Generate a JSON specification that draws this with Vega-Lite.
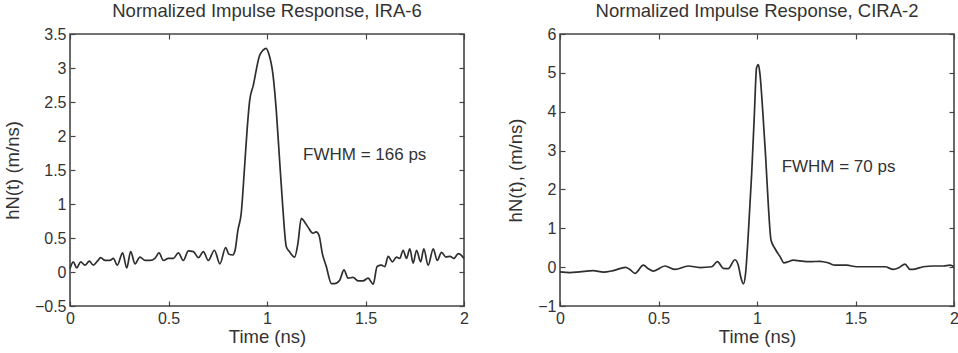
{
  "$schema": "https://vega.github.io/schema/vega-lite/v6.json",
  "background": "white",
  "padding": {"left": 2, "top": 0, "right": 2, "bottom": 0},
  "spacing": 35,
  "config": {
    "font": "Liberation Sans",
    "view": {"stroke": "#454545", "strokeWidth": 1.6},
    "axis": {
      "domain": false,
      "grid": false,
      "tickSize": -5,
      "tickColor": "#454545",
      "tickWidth": 1.2,
      "labelFont": "Liberation Sans",
      "labelFontSize": 16,
      "labelColor": "#333333",
      "labelFlush": false,
      "labelOverlap": false,
      "labelBound": false,
      "format": "~g",
      "titleFont": "Liberation Sans",
      "titleFontSize": 18.5,
      "titleFontWeight": "normal",
      "titleColor": "#333333"
    },
    "title": {
      "font": "Liberation Sans",
      "fontSize": 18.5,
      "fontWeight": "normal",
      "color": "#333333",
      "anchor": "middle",
      "offset": 6
    }
  },
  "datasets": {
    "ira6": [
      {"t":0,"h":0.05},{"t":0.017,"h":0.15},{"t":0.034,"h":0.06},{"t":0.054,"h":0.15},{"t":0.076,"h":0.10},{"t":0.098,"h":0.16},{"t":0.118,"h":0.10},{"t":0.139,"h":0.16},{"t":0.156,"h":0.21},{"t":0.178,"h":0.17},{"t":0.203,"h":0.17},{"t":0.22,"h":0.20},{"t":0.24,"h":0.10},{"t":0.267,"h":0.28},{"t":0.288,"h":0.06},{"t":0.308,"h":0.30},{"t":0.33,"h":0.12},{"t":0.355,"h":0.22},{"t":0.381,"h":0.17},{"t":0.406,"h":0.17},{"t":0.431,"h":0.20},{"t":0.452,"h":0.28},{"t":0.474,"h":0.17},{"t":0.499,"h":0.20},{"t":0.525,"h":0.20},{"t":0.55,"h":0.28},{"t":0.575,"h":0.17},{"t":0.601,"h":0.31},{"t":0.626,"h":0.30},{"t":0.652,"h":0.21},{"t":0.677,"h":0.30},{"t":0.702,"h":0.17},{"t":0.733,"h":0.32},{"t":0.761,"h":0.12},{"t":0.79,"h":0.36},{"t":0.807,"h":0.26},{"t":0.826,"h":0.25},{"t":0.838,"h":0.32},{"t":0.852,"h":0.61},{"t":0.869,"h":0.86},{"t":0.886,"h":1.54},{"t":0.9,"h":2.13},{"t":0.912,"h":2.52},{"t":0.93,"h":2.74},{"t":0.962,"h":3.18},{"t":0.979,"h":3.26},{"t":0.996,"h":3.29},{"t":1.009,"h":3.21},{"t":1.03,"h":2.91},{"t":1.047,"h":2.38},{"t":1.064,"h":1.64},{"t":1.08,"h":0.96},{"t":1.098,"h":0.37},{"t":1.114,"h":0.30},{"t":1.14,"h":0.22},{"t":1.157,"h":0.42},{"t":1.174,"h":0.79},{"t":1.19,"h":0.74},{"t":1.208,"h":0.66},{"t":1.233,"h":0.57},{"t":1.25,"h":0.59},{"t":1.264,"h":0.54},{"t":1.281,"h":0.27},{"t":1.301,"h":0.08},{"t":1.327,"h":-0.17},{"t":1.343,"h":-0.17},{"t":1.369,"h":-0.12},{"t":1.391,"h":0.03},{"t":1.411,"h":-0.09},{"t":1.437,"h":-0.08},{"t":1.462,"h":-0.13},{"t":1.488,"h":-0.13},{"t":1.513,"h":-0.09},{"t":1.539,"h":-0.18},{"t":1.559,"h":0.08},{"t":1.581,"h":0.10},{"t":1.598,"h":0.08},{"t":1.615,"h":0.23},{"t":1.637,"h":0.15},{"t":1.657,"h":0.22},{"t":1.674,"h":0.20},{"t":1.691,"h":0.32},{"t":1.708,"h":0.20},{"t":1.725,"h":0.34},{"t":1.742,"h":0.13},{"t":1.759,"h":0.32},{"t":1.78,"h":0.15},{"t":1.796,"h":0.34},{"t":1.818,"h":0.10},{"t":1.844,"h":0.34},{"t":1.864,"h":0.17},{"t":1.886,"h":0.29},{"t":1.908,"h":0.22},{"t":1.929,"h":0.23},{"t":1.949,"h":0.20},{"t":1.971,"h":0.27},{"t":2.0,"h":0.20}
    ],
    "cira2": [
      {"t":0,"h":-0.12},{"t":0.051,"h":-0.14},{"t":0.10,"h":-0.12},{"t":0.169,"h":-0.09},{"t":0.22,"h":-0.13},{"t":0.27,"h":-0.09},{"t":0.333,"h":-0.005},{"t":0.355,"h":-0.06},{"t":0.381,"h":-0.16},{"t":0.423,"h":0.05},{"t":0.448,"h":-0.04},{"t":0.474,"h":-0.10},{"t":0.533,"h":0.03},{"t":0.584,"h":-0.06},{"t":0.651,"h":0.03},{"t":0.711,"h":-0.01},{"t":0.77,"h":0.01},{"t":0.799,"h":0.14},{"t":0.829,"h":-0.03},{"t":0.854,"h":-0.04},{"t":0.888,"h":0.19},{"t":0.905,"h":0.05},{"t":0.917,"h":-0.24},{"t":0.931,"h":-0.43},{"t":0.942,"h":-0.16},{"t":0.956,"h":0.87},{"t":0.973,"h":2.41},{"t":0.986,"h":3.86},{"t":0.998,"h":5.14},{"t":1.007,"h":5.21},{"t":1.015,"h":4.97},{"t":1.029,"h":4.03},{"t":1.044,"h":2.83},{"t":1.058,"h":1.55},{"t":1.071,"h":0.70},{"t":1.091,"h":0.48},{"t":1.117,"h":0.27},{"t":1.137,"h":0.11},{"t":1.159,"h":0.14},{"t":1.184,"h":0.18},{"t":1.218,"h":0.16},{"t":1.269,"h":0.14},{"t":1.32,"h":0.15},{"t":1.362,"h":0.11},{"t":1.396,"h":0.05},{"t":1.455,"h":0.05},{"t":1.506,"h":0.01},{"t":1.557,"h":0.01},{"t":1.607,"h":0.01},{"t":1.65,"h":0.01},{"t":1.692,"h":-0.06},{"t":1.722,"h":-0.01},{"t":1.751,"h":0.08},{"t":1.777,"h":-0.06},{"t":1.802,"h":-0.05},{"t":1.844,"h":0.01},{"t":1.895,"h":0.03},{"t":1.946,"h":0.03},{"t":1.98,"h":0.05},{"t":2.0,"h":0.01}
    ],
    "notes": [
      {"panel":"IRA-6","t":1.183,"h":1.72,"label":"FWHM = 166 ps"},
      {"panel":"CIRA-2","t":1.125,"h":2.585,"label":"FWHM = 70 ps"}
    ]
  },
  "hconcat": [
    {
      "width": 394,
      "height": 272,
      "title": {"text": "Normalized Impulse Response, IRA-6"},
      "resolve": {"axis": {"x": "independent", "y": "independent"}},
      "layer": [
        {
          "data": {"name": "ira6"},
          "mark": {"type": "line", "color": "#2e2e2e", "strokeWidth": 1.7, "interpolate": "monotone"},
          "encoding": {
            "x": {"field": "t", "type": "quantitative", "scale": {"domain": [0, 2], "nice": false, "zero": false},
                  "axis": {"orient": "bottom", "values": [0, 0.5, 1, 1.5, 2], "title": "Time (ns)", "labelPadding": 9, "titlePadding": 1}},
            "y": {"field": "h", "type": "quantitative", "scale": {"domain": [-0.5, 3.5], "nice": false, "zero": false},
                  "axis": {"orient": "left", "values": [-0.5, 0, 0.5, 1, 1.5, 2, 2.5, 3, 3.5], "title": "hN(t) (m/ns)", "labelPadding": 9, "titlePadding": 12}}
          }
        },
        {
          "data": {"name": "notes"},
          "transform": [{"filter": "datum.panel === 'IRA-6'"}],
          "mark": {"type": "text", "align": "left", "baseline": "middle", "fontSize": 17, "color": "#333333", "font": "Liberation Sans"},
          "encoding": {
            "x": {"field": "t", "type": "quantitative", "scale": {"domain": [0, 2], "nice": false, "zero": false},
                  "axis": {"orient": "top", "values": [0, 0.5, 1, 1.5, 2], "labels": false, "title": null}},
            "y": {"field": "h", "type": "quantitative", "scale": {"domain": [-0.5, 3.5], "nice": false, "zero": false},
                  "axis": {"orient": "right", "values": [-0.5, 0, 0.5, 1, 1.5, 2, 2.5, 3, 3.5], "labels": false, "title": null}},
            "text": {"field": "label"}
          }
        }
      ]
    },
    {
      "width": 394,
      "height": 272,
      "title": {"text": "Normalized Impulse Response, CIRA-2"},
      "resolve": {"axis": {"x": "independent", "y": "independent"}},
      "layer": [
        {
          "data": {"name": "cira2"},
          "mark": {"type": "line", "color": "#2e2e2e", "strokeWidth": 1.7, "interpolate": "monotone"},
          "encoding": {
            "x": {"field": "t", "type": "quantitative", "scale": {"domain": [0, 2], "nice": false, "zero": false},
                  "axis": {"orient": "bottom", "values": [0, 0.5, 1, 1.5, 2], "title": "Time (ns)", "labelPadding": 9, "titlePadding": 1}},
            "y": {"field": "h", "type": "quantitative", "scale": {"domain": [-1, 6], "nice": false, "zero": false},
                  "axis": {"orient": "left", "values": [-1, 0, 1, 2, 3, 4, 5, 6], "title": "hN(t), (m/ns)", "labelPadding": 9, "titlePadding": 12}}
          }
        },
        {
          "data": {"name": "notes"},
          "transform": [{"filter": "datum.panel === 'CIRA-2'"}],
          "mark": {"type": "text", "align": "left", "baseline": "middle", "fontSize": 17, "color": "#333333", "font": "Liberation Sans"},
          "encoding": {
            "x": {"field": "t", "type": "quantitative", "scale": {"domain": [0, 2], "nice": false, "zero": false},
                  "axis": {"orient": "top", "values": [0, 0.5, 1, 1.5, 2], "labels": false, "title": null}},
            "y": {"field": "h", "type": "quantitative", "scale": {"domain": [-1, 6], "nice": false, "zero": false},
                  "axis": {"orient": "right", "values": [-1, 0, 1, 2, 3, 4, 5, 6], "labels": false, "title": null}},
            "text": {"field": "label"}
          }
        }
      ]
    }
  ]
}
